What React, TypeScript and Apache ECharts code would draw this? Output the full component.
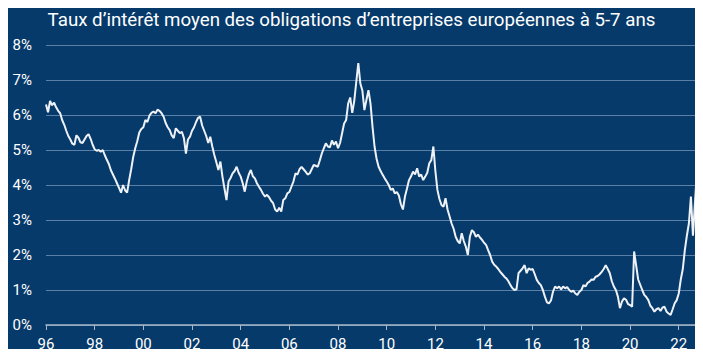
import React, { useEffect, useRef } from "react";
import * as echarts from "echarts";

const title = "Taux d’intérêt moyen des obligations d’entreprises européennes à 5-7 ans";
const startYear = 1996; // first monthly observation: January 1996
const xTickYears = [1996, 1998, 2000, 2002, 2004, 2006, 2008, 2010, 2012, 2014, 2016, 2018, 2020, 2022];
const yTicks = [0, 1, 2, 3, 4, 5, 6, 7, 8];

// monthly average yields (%)
const rates1996_1999 = [
  6.30, 6.08, 6.40, 6.28, 6.35, 6.22, 6.12, 6.05, 5.85, 5.72, 5.55, 5.40,
  5.30, 5.18, 5.15, 5.42, 5.35, 5.22, 5.20, 5.30, 5.40, 5.45, 5.32, 5.15,
  5.02, 4.98, 5.00, 4.95, 5.00, 4.85, 4.72, 4.60, 4.42, 4.30, 4.18, 4.05,
  3.92, 3.78, 4.00, 3.85, 3.78, 4.14, 4.45, 4.80, 5.05, 5.25, 5.50, 5.60,
];
const rates2000_2003 = [
  5.65, 5.86, 5.80, 5.98, 6.06, 6.10, 6.05, 6.15, 6.12, 6.05, 5.95, 5.77,
  5.65, 5.57, 5.42, 5.34, 5.62, 5.55, 5.48, 5.52, 5.34, 4.90, 5.30, 5.38,
  5.55, 5.65, 5.80, 5.92, 5.95, 5.70, 5.55, 5.40, 5.20, 5.38, 5.10, 4.86,
  4.65, 4.43, 4.67, 4.24, 3.90, 3.57, 4.10, 4.20, 4.33, 4.40, 4.52, 4.35,
];
const rates2004_2007 = [
  4.24, 4.05, 3.81, 4.10, 4.30, 4.43, 4.25, 4.19, 4.05, 3.95, 3.86, 3.75,
  3.67, 3.72, 3.65, 3.55, 3.48, 3.30, 3.24, 3.35, 3.24, 3.57, 3.62, 3.76,
  3.80, 3.95, 4.10, 4.33, 4.30, 4.45, 4.52, 4.45, 4.38, 4.30, 4.33, 4.45,
  4.57, 4.55, 4.52, 4.70, 4.90, 5.05, 5.19, 5.10, 5.08, 5.27, 5.15, 5.24,
];
const rates2008_2011 = [
  5.05, 5.20, 5.48, 5.76, 5.86, 6.33, 6.50, 6.06, 6.40, 6.95, 7.48, 6.90,
  6.70, 6.14, 6.43, 6.71, 6.33, 5.67, 5.10, 4.75, 4.52, 4.40, 4.29, 4.19,
  4.10, 4.00, 3.86, 3.90, 3.76, 3.80, 3.70, 3.45, 3.30, 3.67, 3.90, 4.14,
  4.25, 4.38, 4.30, 4.48, 4.24, 4.30, 4.14, 4.24, 4.35, 4.62, 4.71, 5.10,
];
const rates2012_2015 = [
  4.40, 3.86, 3.60, 3.43, 3.38, 3.62, 3.30, 3.10, 2.90, 2.75, 2.52, 2.40,
  2.33, 2.62, 2.40, 2.24, 2.00, 2.52, 2.71, 2.65, 2.52, 2.58, 2.50, 2.43,
  2.35, 2.29, 2.14, 2.00, 1.81, 1.72, 1.67, 1.60, 1.52, 1.45, 1.38, 1.33,
  1.25, 1.14, 1.05, 1.00, 1.02, 1.48, 1.55, 1.62, 1.71, 1.48, 1.62, 1.58,
];
const rates2016_2019 = [
  1.60, 1.45, 1.29, 1.20, 1.14, 1.00, 0.81, 0.65, 0.62, 0.70, 0.95, 1.10,
  1.05, 1.10, 1.02, 1.10, 1.05, 1.08, 1.00, 0.95, 0.98, 0.90, 0.86, 0.95,
  1.00, 1.14, 1.10, 1.20, 1.24, 1.30, 1.29, 1.38, 1.40, 1.45, 1.52, 1.60,
  1.71, 1.60, 1.48, 1.25, 1.10, 1.00, 0.81, 0.48, 0.67, 0.76, 0.72, 0.60,
];
const rates2020_2022 = [
  0.57, 0.52, 2.10, 1.70, 1.30, 1.15, 1.00, 0.86, 0.80, 0.71, 0.55, 0.48,
  0.38, 0.45, 0.48, 0.40, 0.50, 0.52, 0.38, 0.33, 0.29, 0.45, 0.62, 0.71,
  0.90, 1.30, 1.60, 2.14, 2.55, 2.90, 3.67, 2.55, 3.50, 4.43,
];

const allRates = [
  ...rates1996_1999,
  ...rates2000_2003,
  ...rates2004_2007,
  ...rates2008_2011,
  ...rates2012_2015,
  ...rates2016_2019,
  ...rates2020_2022,
];
const seriesData = allRates.map((v, i) => [startYear + i / 12, v]);

const BG = "#063a6b";
const FONT = "Roboto, 'Noto Sans', sans-serif";

export default function App() {
  const ref = useRef<HTMLDivElement>(null);
  useEffect(() => {
    if (!ref.current) return;
    const chart = echarts.init(ref.current, undefined, { renderer: "svg" });
    chart.setOption({
      animation: false,
      backgroundColor: BG,
      title: {
        text: title,
        left: "center",
        top: 5,
        textStyle: { color: "#ffffff", fontSize: 18.7, fontWeight: "normal", fontFamily: FONT },
      },
      grid: { left: 46, right: 6, top: 45, bottom: 32, containLabel: false },
      xAxis: {
        type: "value",
        min: 1996,
        max: 2022.75,
        interval: 2,
        axisLine: { show: true, lineStyle: { color: "#a8b8ca", width: 1.5 } },
        axisTick: { show: true, length: 5, lineStyle: { color: "#a8b8ca" }, customValues: xTickYears },
        axisLabel: {
          color: "#ffffff",
          fontSize: 15,
          fontFamily: FONT,
          margin: 11,
          customValues: xTickYears,
          formatter: (v: number) => String(Math.round(v) % 100).padStart(2, "0"),
        },
        splitLine: { show: false },
      },
      yAxis: {
        type: "value",
        min: 0,
        max: 8,
        interval: 1,
        axisLine: { show: false },
        axisTick: { show: false },
        axisLabel: {
          color: "#ffffff",
          fontSize: 15,
          fontFamily: FONT,
          margin: 14,
          customValues: yTicks,
          formatter: (v: number) => `${v}%`,
        },
        splitLine: { show: true, lineStyle: { color: "#5a80a8", width: 1 } },
      },
      series: [
        {
          type: "line",
          data: seriesData,
          showSymbol: false,
          clip: false,
          lineStyle: { color: "#eef2f7", width: 2 },
          z: 5,
        },
      ],
    });
    return () => chart.dispose();
  }, []);
  return <div ref={ref} style={{ width: 703, height: 357, margin: -8 }} />;
}
